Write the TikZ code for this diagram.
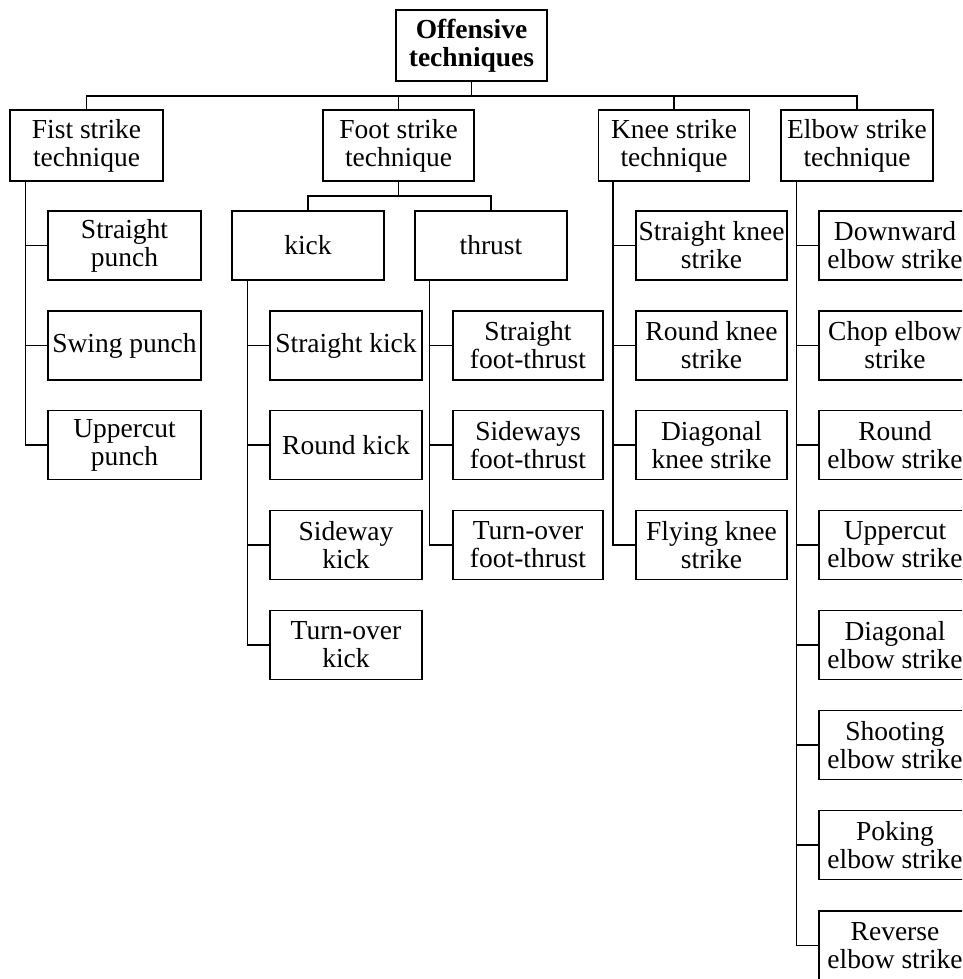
\documentclass[tikz,border=0pt]{standalone}
\usepackage{fontspec}
\setmainfont{Liberation Serif}
\usetikzlibrary{calc}
\tikzset{
  box/.style={draw, line width=1.1pt, inner sep=0pt, align=center, minimum height=69pt,
    font=\fontsize{27.5}{28}\selectfont},
  topbox/.style={box, minimum height=71pt},
  conn/.style={line width=1.1pt},
}
\begin{document}
\begin{tikzpicture}[x=1pt,y=-1pt]
\useasboundingbox (0,0) rectangle (962,979);
\clip (0,0) rectangle (962,979);
% root
\node[topbox, minimum width=151pt, font=\fontsize{27.5}{28}\selectfont\bfseries] (root) at (471.5,45.5) {Offensive\\techniques};
% level 1
\node[topbox, minimum width=153pt] (fist) at (86.5,145.5) {Fist strike\\technique};
\node[topbox, minimum width=151pt] (foot) at (398.5,145.5) {Foot strike\\technique};
\node[topbox, minimum width=151pt] (knee) at (674,145.5) {Knee strike\\technique};
\node[topbox, minimum width=152pt] (elbow) at (857,145.5) {Elbow strike\\technique};
% foot sub
\node[box, minimum width=152pt] (kick) at (308,245.5) {kick};
\node[box, minimum width=152pt] (thrust) at (491,245.5) {thrust};
% fist children
\node[box, minimum width=153pt] (f1) at (124.5,245.5) {Straight\\punch};
\node[box, minimum width=153pt] (f2) at (124.5,345.5) {Swing punch};
\node[box, minimum width=153pt] (f3) at (124.5,445) {Uppercut\\punch};
% kick children
\node[box, minimum width=152pt] (k1) at (346,345.5) {Straight kick};
\node[box, minimum width=152pt] (k2) at (346,445) {Round kick};
\node[box, minimum width=152pt] (k3) at (346,545) {Sideway\\kick};
\node[box, minimum width=152pt] (k4) at (346,645) {Turn-over\\kick};
% thrust children
\node[box, minimum width=150pt] (t1) at (528,345.5) {Straight\\foot-thrust};
\node[box, minimum width=150pt] (t2) at (528,445) {Sideways\\foot-thrust};
\node[box, minimum width=150pt] (t3) at (528,545) {Turn-over\\foot-thrust};
% knee children
\node[box, minimum width=151pt] (n1) at (711.5,245.5) {Straight knee\\strike};
\node[box, minimum width=151pt] (n2) at (711.5,345.5) {Round knee\\strike};
\node[box, minimum width=151pt] (n3) at (711.5,445) {Diagonal\\knee strike};
\node[box, minimum width=151pt] (n4) at (711.5,545) {Flying knee\\strike};
% elbow children
\node[box, minimum width=152pt] (e1) at (895,245.5) {Downward\\elbow strike};
\node[box, minimum width=152pt] (e2) at (895,345.5) {Chop elbow\\strike};
\node[box, minimum width=152pt] (e3) at (895,445) {Round\\elbow strike};
\node[box, minimum width=152pt] (e4) at (895,545) {Uppercut\\elbow strike};
\node[box, minimum width=152pt] (e5) at (895,645) {Diagonal\\elbow strike};
\node[box, minimum width=152pt] (e6) at (895,745) {Shooting\\elbow strike};
\node[box, minimum width=152pt] (e7) at (895,845) {Poking\\elbow strike};
\node[box, minimum width=152pt] (e8) at (895,945.5) {Reverse\\elbow strike};
% main bus
\coordinate (bus) at (0,96);
\draw[conn] (root.south) -- (root.south |- bus);
\draw[conn] (fist.north) -- (fist.north |- bus) -| (elbow.north);
\draw[conn] (foot.north) -- (foot.north |- bus);
\draw[conn] (knee.north) -- (knee.north |- bus);
% foot bus
\coordinate (fbus) at (0,196);
\draw[conn] (foot.south) -- (foot.south |- fbus);
\draw[conn] (kick.north) -- (kick.north |- fbus) -| (thrust.north);
% trunks
\coordinate (tf) at ($(fist.south west)+(16,0)$);
\coordinate (tk) at ($(kick.south west)+(16,0)$);
\coordinate (tt) at ($(thrust.south west)+(15,0)$);
\coordinate (tn) at ($(knee.south west)+(15,0)$);
\coordinate (te) at ($(elbow.south west)+(16,0)$);
\draw[conn] (tf) |- (f3.west);
\foreach \c in {f1,f2} \draw[conn] (\c.west) -- (\c.west -| tf);
\draw[conn] (tk) |- (k4.west);
\foreach \c in {k1,k2,k3} \draw[conn] (\c.west) -- (\c.west -| tk);
\draw[conn] (tt) |- (t3.west);
\foreach \c in {t1,t2} \draw[conn] (\c.west) -- (\c.west -| tt);
\draw[conn] (tn) |- (n4.west);
\foreach \c in {n1,n2,n3} \draw[conn] (\c.west) -- (\c.west -| tn);
\draw[conn] (te) |- (e8.west);
\foreach \c in {e1,e2,e3,e4,e5,e6,e7} \draw[conn] (\c.west) -- (\c.west -| te);
\end{tikzpicture}
\end{document}
